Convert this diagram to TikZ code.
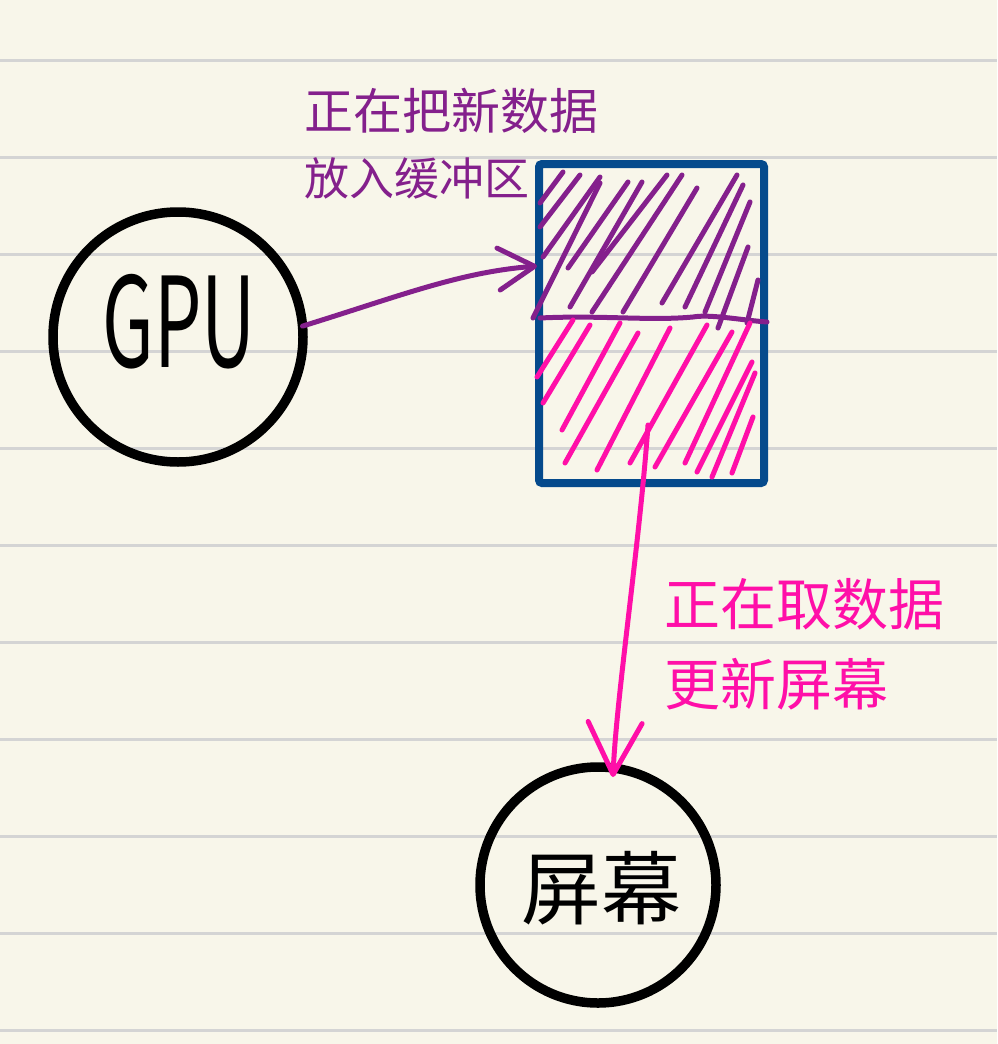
\documentclass[tikz,border=0pt]{standalone}
\usepackage{fontspec}
\setmainfont{Noto Sans CJK SC}
\usetikzlibrary{arrows.meta,calc}
\definecolor{paper}{HTML}{F8F6EA}
\definecolor{ruleclr}{HTML}{D4D4D4}
\definecolor{hpurple}{HTML}{84208C}
\definecolor{hpink}{HTML}{FF0FA8}
\definecolor{hblue}{HTML}{054A8C}
\tikzset{
  ruleline/.style={draw=ruleclr, line width=3pt},
  ring/.style={circle, draw=black, line width=9.5pt, inner sep=0pt, outer sep=0pt},
  bufbox/.style={rectangle, draw=hblue, line width=8pt, rounded corners=3pt, minimum width=225pt, minimum height=319pt, inner sep=0pt, outer sep=0pt},
  penP/.style={draw=hpurple, line width=5pt, line cap=round, line join=round},
  penK/.style={draw=hpink, line width=5pt, line cap=round, line join=round},
  labelP/.style={text=hpurple, align=left, inner sep=0pt, font=\fontsize{49}{66}\selectfont},
  labelK/.style={text=hpink, align=left, inner sep=0pt, font=\fontsize{56}{80}\selectfont},
}
\begin{document}
\begin{tikzpicture}[x=1pt,y=-1pt]
\fill[paper] (0,0) rectangle (997,1044);
\useasboundingbox (0,0) rectangle (997,1044);
% ruled paper
\foreach \yy in {60,157,254,351,448,545,642,739,836,933,1030}
  \draw[ruleline] (0,\yy) -- (997,\yy);

% nodes
\node[ring, minimum size=250pt] (gpu) at (178,337) {};
\node[ring, minimum size=236pt] (scr) at (598,885) {};
\node[bufbox] (buf) at (651.5,323.5) {};

% hatching, purple (upper half)
\foreach \a/\b/\c/\d in {540/203/563/172, 540/227/580/175, 543/257/600/177, 533/318/600/183,
  568/268/628/182, 592/272/667/175, 570/307/642/182, 592/312/682/175, 623/312/697/188,
  662/303/737/175, 685/307/743/185, 705/312/750/202, 718/328/748/247, 747/323/758/280}
  \draw[penP] (\a,\b) -- (\c,\d);
% divider
\draw[penP] (540,318) .. controls (600,315) and (650,321) .. (693,317) .. controls (710,314) and (740,320) .. (767,322);
% hatching, pink (lower half)
\foreach \a/\b/\c/\d in {537/377/573/320, 543/403/590/325, 562/430/620/323, 565/463/638/333,
  597/470/670/328, 630/463/707/325, 655/467/732/332, 685/463/750/323, 697/472/752/362,
  712/477/755/373, 732/473/753/417}
  \draw[penK] (\a,\b) -- (\c,\d);

% texts
\node at (179,322) {\fontsize{125}{125}\selectfont\scalebox{0.6}[1]{GPU}};
\node at (601,888) {\fontsize{80}{80}\selectfont 屏幕};
\node[labelP, anchor=north west] (tP) at (304,88) {正在把新数据\\{\fontsize{45}{66}\selectfont 放入缓冲区}};
\node[labelK, anchor=north west] (tK) at (664,578) {正在取数据\\更新屏幕};

% connectors
\coordinate (bufin) at ($(buf.north west)!0.32!(buf.south west)+(-2,0)$);
\draw[penP, -{Straight Barb[length=36pt,width=42pt,line cap=round,line join=round]}]
  (gpu.5) .. controls (400,296) and (460,272) .. (bufin);
\coordinate (scrin) at (613,777);
\draw[penK, -{Straight Barb[length=52pt,width=54pt,line cap=round,line join=round]}]
  (648,425) .. controls (640,540) and (616,700) .. (scrin);
\end{tikzpicture}
\end{document}
